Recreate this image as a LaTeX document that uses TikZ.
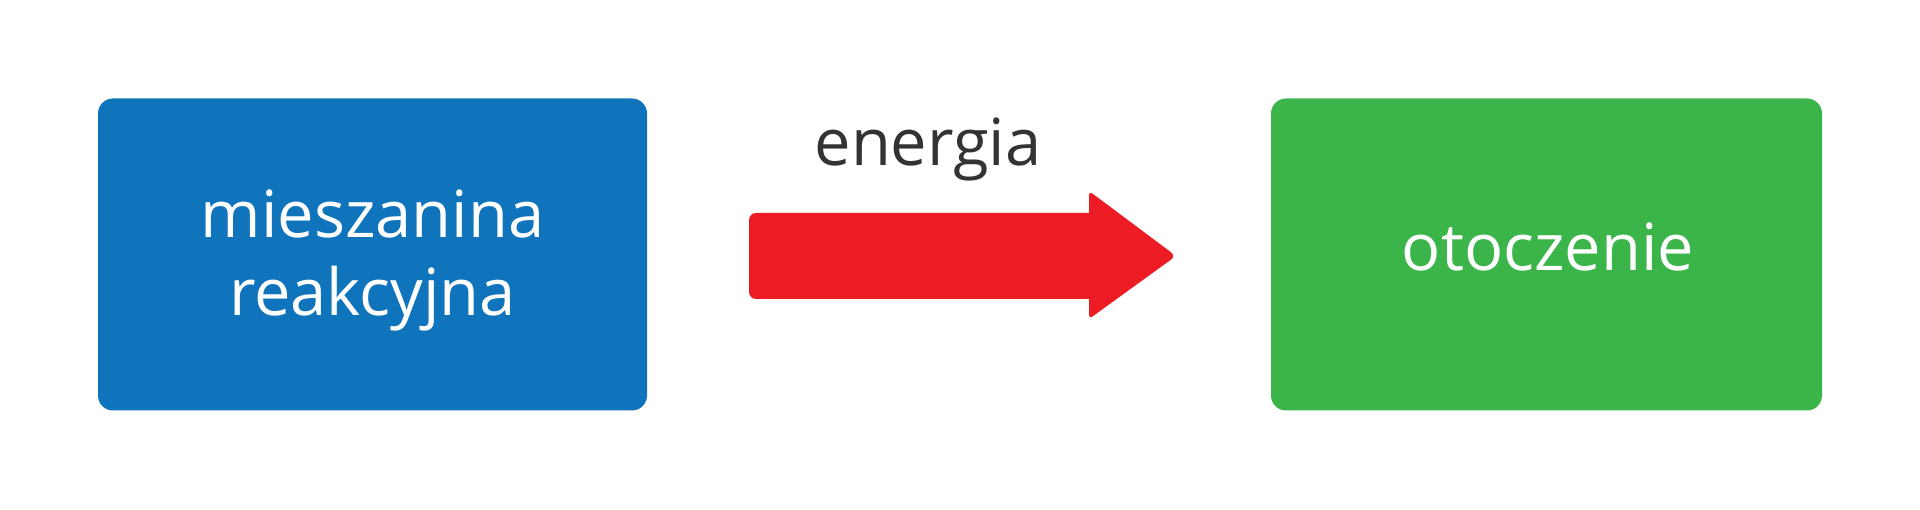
\documentclass[tikz,border=0pt]{standalone}
\usepackage{fontspec}
\setmainfont{Open Sans}
\definecolor{boxblue}{HTML}{1074BC}
\definecolor{boxgreen}{HTML}{3BB44A}
\definecolor{arrred}{HTML}{ED1C24}
\definecolor{txtdark}{HTML}{333333}
\begin{document}
\begin{tikzpicture}[x=1pt,y=-1pt,
  box/.style={rounded corners=15pt, inner sep=0pt, minimum height=312pt},
  wtxt/.style={inner sep=0pt, text=white, font=\fontsize{65}{78}\selectfont, anchor=base},
  lbl/.style={inner sep=0pt, text=txtdark, font=\fontsize{65}{78}\selectfont, anchor=base}]
\useasboundingbox (0,0) rectangle (1920,510);
\node[box, fill=boxblue, minimum width=549pt] (mix) at (372.5,254.5) {};
\node[wtxt] (mix1) at (372.5,238) {mieszanina};
\node[wtxt] (mix2) at (372.5,316) {reakcyjna};
\node[box, fill=boxgreen, minimum width=551pt] (env) at (1546.5,254.5) {};
\node[wtxt] (envt) at (1548,271) {otoczenie};
\coordinate (tip) at (1176,256);
\fill[arrred, rounded corners=7pt]
  (749,213) [rounded corners=0pt] -- (1089,213) [rounded corners=4pt] -- (1089,191) [rounded corners=6pt] -- (tip)
  [rounded corners=4pt] -- (1089,319) [rounded corners=0pt] -- (1089,299) [rounded corners=7pt] -- (749,299) -- cycle;
\node[lbl] (en) at (928,166) {energia};
\end{tikzpicture}
\end{document}
